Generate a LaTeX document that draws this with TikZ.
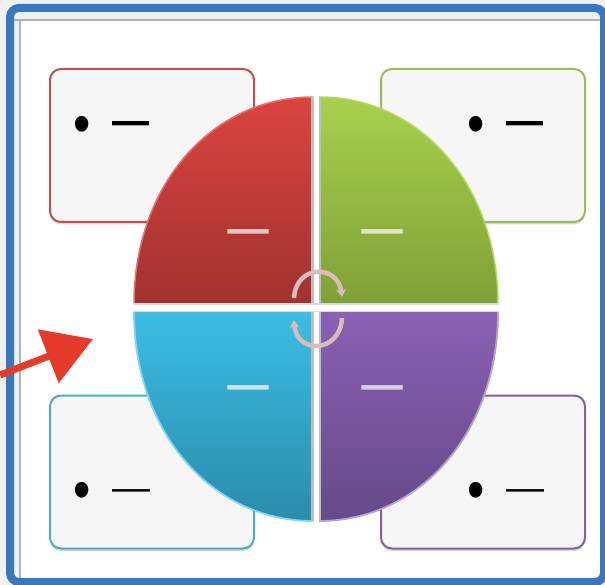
\documentclass[tikz,border=0pt]{standalone}
\usepackage{fontspec}
\setmainfont{Liberation Sans}
\newfontfamily\thickfont{DejaVu Sans}
\usetikzlibrary{positioning, arrows.meta, shadows}

\definecolor{frameblue}{HTML}{3A78BE}
\definecolor{redline}{HTML}{C0504D}
\definecolor{greenline}{HTML}{9BBB59}
\definecolor{blueline}{HTML}{4BACC6}
\definecolor{purpleline}{HTML}{8064A2}
\definecolor{redtop}{HTML}{DB4440}
\definecolor{redbot}{HTML}{A03230}
\definecolor{greentop}{HTML}{A8D04C}
\definecolor{greenbot}{HTML}{7FA038}
\definecolor{bluetop}{HTML}{3CBDE4}
\definecolor{bluebot}{HTML}{2A8CAA}
\definecolor{purpletop}{HTML}{8A60B4}
\definecolor{purplebot}{HTML}{654A88}
\definecolor{pointerred}{HTML}{E63B2B}
\definecolor{turnpink}{HTML}{D8BDB8}

\begin{document}
\begin{tikzpicture}[x=1pt, y=-1pt,
   card/.style={rectangle, draw, rounded corners=11pt, minimum width=204pt, minimum height=153pt, inner sep=0pt, line width=2pt, fill=black!3.5,
     drop shadow={shadow xshift=0pt, shadow yshift=-2.5pt, opacity=0.3}},
   dotmark/.style={font=\fontsize{58}{58}\selectfont, inner sep=0pt, text=black, xscale=0.85, transform shape},
   dashmark/.style={font=\thickfont\fontsize{41}{41}\selectfont, inner sep=0pt, text=black, yscale=1.5, transform shape},
   thinmark/.style={font=\fontsize{38}{38}\selectfont, inner sep=0pt, text=black},
   pielabel/.style={font=\thickfont\fontsize{46}{46}\selectfont, inner sep=0pt, text=white, opacity=0.7, yscale=1.4, transform shape},
   gapline/.style={line width=#1, line cap=butt},
   turn/.style={-{Stealth[length=8pt, width=10pt]}, line width=4.5pt, draw=turnpink}]
  \useasboundingbox (0,0) rectangle (605,585);
  \fill[black!6] (0,0) rectangle (605,585);
  \fill[white] (20,20) rectangle (601,581);
  \draw[black!30, line width=1.2pt] (10,20) -- (600,20);
  \draw[black!30, line width=1.2pt] (20,20) -- (20,581);
  \draw[frameblue, line width=8pt, rounded corners=9pt] (10,8) rectangle (604,582);

  % cards behind the pie
  \node[card, draw=redline]    (cardred)    at (152,145.5) {};
  \node[card, draw=greenline]  (cardgreen)  at (483,145.5) {};
  \node[card, draw=blueline]   (cardblue)   at (152,472)   {};
  \node[card, draw=purpleline] (cardpurple) at (483,472)   {};

  \node[dotmark]  (dotred)     at (82.5,130)  {•};
  \node[dashmark] (dashred)    at (131,131)   {—};
  \node[dotmark]  (dotgreen)   at (476.5,130) {•};
  \node[dashmark] (dashgreen)  at (525,131)   {—};
  \node[dotmark]  (dotblue)    at (82.5,496)  {•};
  \node[thinmark] (dashblue)   at (131,495)   {—};
  \node[dotmark]  (dotpurple)  at (476.5,496) {•};
  \node[thinmark] (dashpurple) at (525,495)   {—};

  % the four quarters
  \shade[top color=redtop, bottom color=redbot]
    (313,304) -- (134,304) .. controls (134,186) and (211,97) .. (313,97) -- cycle;
  \shade[top color=greentop, bottom color=greenbot]
    (319,304) -- (319,97) .. controls (421,97) and (498,186) .. (498,304) -- cycle;
  \shade[top color=bluetop, bottom color=bluebot]
    (313,312) -- (134,312) .. controls (134,431) and (211,521) .. (313,521) -- cycle;
  \shade[top color=purpletop, bottom color=purplebot]
    (319,312) -- (319,521) .. controls (421,521) and (498,431) .. (498,312) -- cycle;
  \draw[redtop!75!white, line width=1.5pt] (134,304) .. controls (134,186) and (211,97) .. (313,97);
  \draw[greentop!85!white, line width=1.5pt] (319,97) .. controls (421,97) and (498,186) .. (498,304);
  \draw[cyan!50!white, line width=1.8pt] (134,312) .. controls (134,431) and (211,521) .. (313,521);
  \draw[purpletop!60!white, line width=1.8pt] (319,521) .. controls (421,521) and (498,431) .. (498,312);

  % grey edges along the gaps
  \draw[black!25, gapline=10pt] (316,97) -- (316,521);
  \draw[white, gapline=5pt] (316,96) -- (316,522);
  \draw[black!15, gapline=9pt] (133,308) -- (499,308);
  \draw[white, gapline=6pt] (133,308) -- (499,308);

  \node[pielabel] (labelred)    at (248,240) {—};
  \node[pielabel] (labelgreen)  at (382,240) {—};
  \node[pielabel] (labelblue)   at (248,396) {—};
  \node[pielabel] (labelpurple) at (382,396) {—};

  % turning arrows in the middle
  \coordinate (topfrom) at (294,298);
  \coordinate (topto) at (342,297);
  \coordinate (botfrom) at (342,318);
  \coordinate (botto) at (294,320);
  \draw[turn] (topfrom) .. controls (296,264) and (338,264) .. (topto);
  \draw[turn] (botfrom) .. controls (340,354) and (296,354) .. (botto);

  % red pointer
  \coordinate (pointerfrom) at (0,375);
  \coordinate (pointerto) at (93,339);
  \draw[-{Triangle[length=48pt, width=56pt]}, line width=7pt, draw=pointerred, fill=pointerred] (pointerfrom) -- (pointerto);
\end{tikzpicture}
\end{document}
